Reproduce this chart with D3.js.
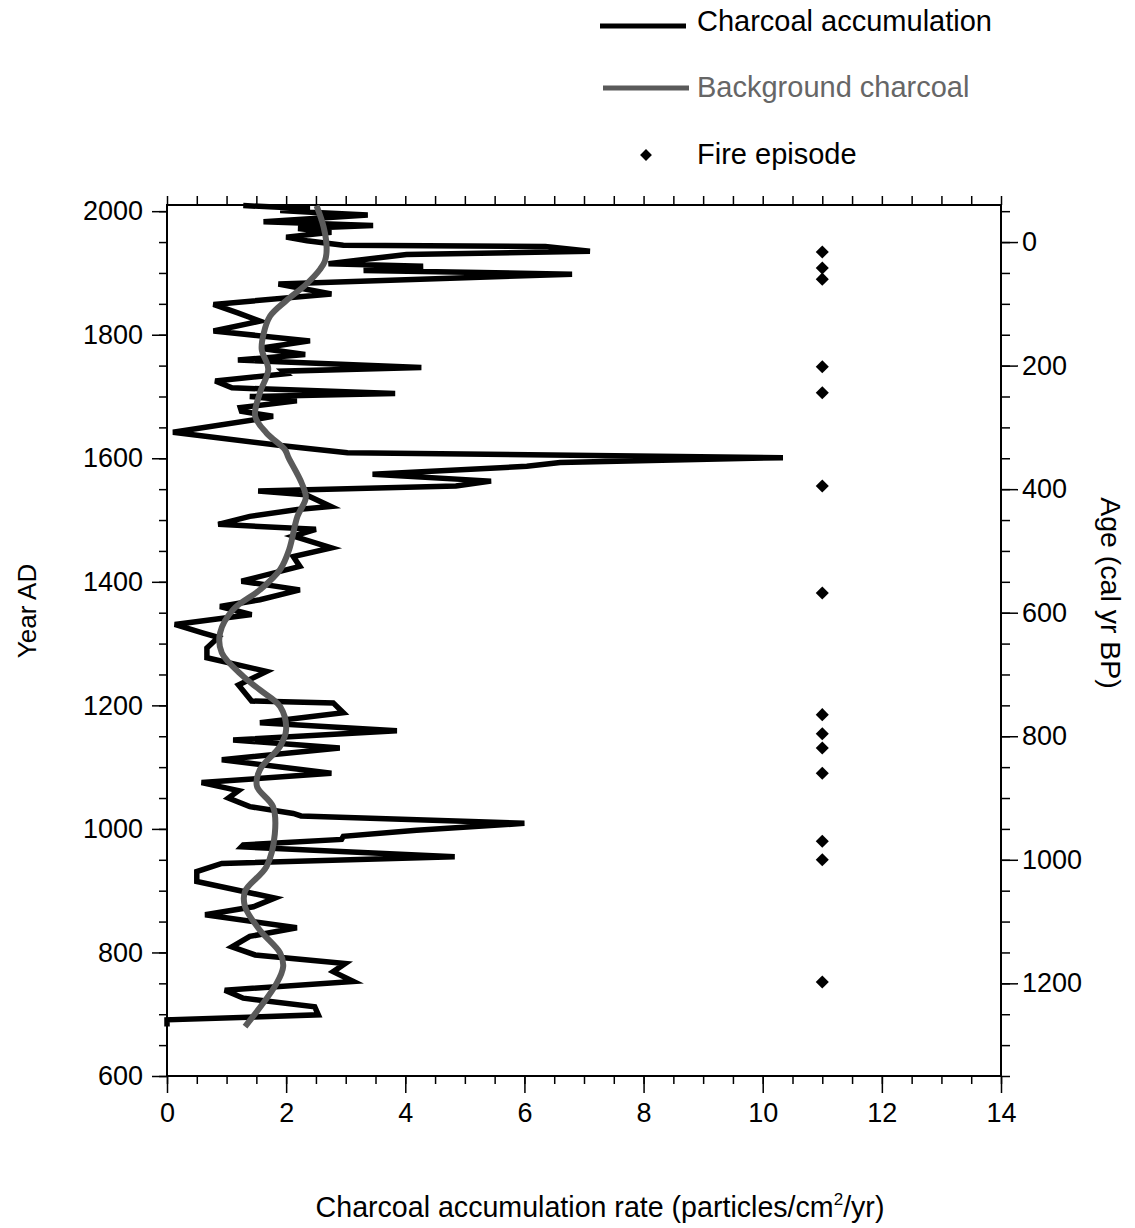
<!DOCTYPE html>
<html>
<head>
<meta charset="utf-8">
<script src="https://cdn.jsdelivr.net/npm/d3@7"></script>
<style>
  body { margin: 0; background: #fff; }
  svg { display: block; }
  text { font-family: "Liberation Sans", Arial, sans-serif; }
</style>
</head>
<body>
<svg id="chart" width="1135" height="1228"></svg>
<script>
// charcoal accumulation, read top (young) to bottom (old)
const charcoalYears = [2009, 2004, 2001, 1998, 1994, 1983, 1977, 1972, 1966, 1958, 1952, 1945, 1943, 1935, 1930,
  1915, 1911, 1904, 1898, 1882, 1866, 1849, 1835, 1822, 1806, 1790, 1778, 1768, 1759, 1747, 1741, 1737,
  1725, 1714, 1705, 1700, 1693, 1682, 1676, 1668, 1663, 1642, 1620, 1609, 1601, 1593, 1587, 1574, 1563,
  1555, 1547, 1541, 1522, 1517, 1506, 1493, 1485, 1474, 1455, 1441, 1425, 1401, 1387, 1371, 1360, 1347,
  1331, 1317, 1310, 1293, 1277, 1255, 1233, 1207, 1204, 1188, 1172, 1159, 1144, 1131, 1112, 1090, 1075,
  1062, 1050, 1036, 1025, 1021, 1009, 998, 988, 983, 974, 971, 955, 944, 931, 915, 888, 874, 861, 840,
  826, 809, 796, 782, 769, 753, 739, 726, 712, 699, 691, 680];
const charcoalValues = [1.28, 2.4, 1.9, 2.5, 3.37, 1.62, 3.46, 2.2, 2.76, 2.0, 2.35, 2.96, 6.35, 7.1, 4.02,
  2.71, 4.3, 3.3, 6.8, 1.87, 2.76, 0.78, 1.2, 1.56, 0.78, 2.4, 1.56, 2.32, 1.19, 4.27, 1.95, 2.0,
  0.81, 1.09, 3.83, 1.39, 2.18, 1.23, 1.25, 1.78, 1.5, 0.1, 1.98, 3.03, 10.34, 6.6, 6.04, 3.45, 5.44,
  4.85, 1.53, 2.33, 2.75, 2.19, 1.39, 0.86, 2.5, 2.12, 2.76, 2.12, 2.23, 1.25, 2.23, 1.56, 0.89, 1.42,
  0.13, 0.61, 0.86, 0.67, 0.67, 1.67, 1.2, 1.42, 2.79, 2.96, 1.56, 3.86, 1.11, 2.9, 0.92, 2.76, 0.58,
  1.2, 1.03, 1.39, 2.12, 2.25, 6.0, 4.19, 2.96, 2.93, 1.28, 1.25, 4.83, 0.92, 0.5, 0.5, 1.81, 1.45, 0.64, 2.18,
  1.39, 1.09, 1.48, 2.99, 2.79, 3.13, 0.97, 1.28, 2.48, 2.54, 0.0, 0.0];

// background charcoal (smoothed)
const backgroundYears = [2009, 1974, 1940, 1919, 1906, 1882, 1855, 1830, 1801, 1776, 1744, 1706, 1668, 1641,
  1614, 1601, 1560, 1536, 1506, 1452, 1420, 1387, 1355, 1317, 1285, 1247, 1225, 1198, 1161, 1134, 1096,
  1069, 1036, 992, 939, 899, 874, 836, 799, 777, 750, 680];
const backgroundValues = [2.51, 2.63, 2.68, 2.65, 2.57, 2.34, 2.0, 1.73, 1.62, 1.59, 1.7, 1.56, 1.48, 1.67,
  1.98, 2.04, 2.26, 2.33, 2.19, 2.05, 1.9, 1.56, 1.11, 0.89, 0.92, 1.28, 1.56, 1.9, 2.0, 1.9, 1.56,
  1.51, 1.78, 1.81, 1.67, 1.31, 1.31, 1.56, 1.9, 1.95, 1.84, 1.31];

// fire episodes, all drawn at rate 11
const fireYears = [1934, 1908, 1890, 1748, 1706, 1555, 1382, 1185, 1154, 1131, 1090, 980, 950, 752];
const fireRate = 11;

const rateTicks = [0, 2, 4, 6, 8, 10, 12, 14];
const yearTicks = [600, 800, 1000, 1200, 1400, 1600, 1800, 2000];
const ageTicks = [0, 200, 400, 600, 800, 1000, 1200];

const svg = d3.select("#chart");
const plotLeft = 167, plotRight = 1001, plotTop = 205, plotBottom = 1076;

const x = d3.scaleLinear().domain([0, 14]).range([plotLeft, plotRight]);
const y = d3.scaleLinear().domain([600, 2010]).range([plotBottom, plotTop]);
const age = d3.scaleLinear().domain([1950 - 600, 1950 - 2010]).range([plotBottom, plotTop]);

function styleAxis(g, size) {
  g.select(".domain").remove();
  g.selectAll(".tick line").attr("stroke", "#000").attr("stroke-width", 1.5);
  g.selectAll(".tick text").attr("font-size", size).attr("fill", "#000")
    .style("font-family", '"Liberation Sans", Arial, sans-serif');
}

// bottom axis
svg.append("g").attr("transform", `translate(0,${plotBottom})`)
  .call(d3.axisBottom(x).tickValues(d3.range(0, 14.01, 0.5)).tickSize(8).tickFormat(""))
  .call(g => styleAxis(g, 0));
svg.append("g").attr("transform", `translate(0,${plotBottom})`)
  .call(d3.axisBottom(x).tickValues(rateTicks).tickSize(17).tickPadding(10).tickFormat(d3.format("d")))
  .call(g => styleAxis(g, 27));

// top axis
svg.append("g").attr("transform", `translate(0,${plotTop})`)
  .call(d3.axisTop(x).tickValues(d3.range(0, 14.01, 0.5)).tickSize(9).tickFormat(""))
  .call(g => styleAxis(g, 0));

// left axis (Year AD)
svg.append("g").attr("transform", `translate(${plotLeft},0)`)
  .call(d3.axisLeft(y).tickValues(d3.range(600, 2001, 50)).tickSize(8).tickFormat(""))
  .call(g => styleAxis(g, 0));
svg.append("g").attr("transform", `translate(${plotLeft},0)`)
  .call(d3.axisLeft(y).tickValues(yearTicks).tickSize(15).tickPadding(9).tickFormat(d3.format("d")))
  .call(g => styleAxis(g, 27));

// right axis (cal yr BP)
svg.append("g").attr("transform", `translate(${plotRight},0)`)
  .call(d3.axisRight(age).tickValues(d3.range(-50, 1351, 50)).tickSize(9).tickFormat(""))
  .call(g => styleAxis(g, 0));
svg.append("g").attr("transform", `translate(${plotRight},0)`)
  .call(d3.axisRight(age).tickValues(ageTicks).tickSize(17).tickPadding(4).tickFormat(d3.format("d")))
  .call(g => styleAxis(g, 27));

// frame
svg.append("rect")
  .attr("x", plotLeft).attr("y", plotTop)
  .attr("width", plotRight - plotLeft).attr("height", plotBottom - plotTop)
  .attr("fill", "none").attr("stroke", "#000").attr("stroke-width", 2);

const charcoal = charcoalYears.map((yr, i) => ({ year: yr, value: charcoalValues[i] }));
const background = backgroundYears.map((yr, i) => ({ year: yr, value: backgroundValues[i] }));

const plot = svg.append("g");

plot.append("path")
  .datum(charcoal)
  .attr("fill", "none")
  .attr("stroke", "#000")
  .attr("stroke-width", 5.5)
  .attr("d", d3.line().x(d => x(d.value)).y(d => y(d.year)));

plot.append("path")
  .datum(background)
  .attr("fill", "none")
  .attr("stroke", "#5a5a5a")
  .attr("stroke-width", 6)
  .attr("d", d3.line().curve(d3.curveCatmullRom).x(d => x(d.value)).y(d => y(d.year)));

const diamond = d3.symbol().type(d3.symbolSquare).size(85);
plot.selectAll(".fire")
  .data(fireYears)
  .join("path")
  .attr("class", "fire")
  .attr("transform", d => `translate(${x(fireRate)},${y(d)}) rotate(45)`)
  .attr("d", diamond)
  .attr("fill", "#000");

// axis titles
svg.append("text")
  .attr("transform", "translate(36,611) rotate(-90)")
  .attr("text-anchor", "middle")
  .attr("font-size", 26)
  .text("Year AD");

svg.append("text")
  .attr("transform", "translate(1101,593) rotate(90)")
  .attr("text-anchor", "middle")
  .attr("font-size", 28.5)
  .text("Age (cal yr BP)");

const xTitle = svg.append("text")
  .attr("x", 600).attr("y", 1217)
  .attr("text-anchor", "middle")
  .attr("font-size", 28.6);
xTitle.append("tspan").text("Charcoal accumulation rate (particles/cm");
xTitle.append("tspan").attr("font-size", 17).attr("dy", -12).text("2");
xTitle.append("tspan").attr("dy", 12).text("/yr)");

// legend
const legend = svg.append("g");
legend.append("line").attr("x1", 600).attr("x2", 686).attr("y1", 26).attr("y2", 26)
  .attr("stroke", "#000").attr("stroke-width", 5);
legend.append("text").attr("x", 697).attr("y", 31).attr("font-size", 29).attr("fill", "#000")
  .text("Charcoal accumulation");
legend.append("line").attr("x1", 603).attr("x2", 689).attr("y1", 88).attr("y2", 88)
  .attr("stroke", "#5a5a5a").attr("stroke-width", 5);
legend.append("text").attr("x", 697).attr("y", 97).attr("font-size", 29).attr("fill", "#666")
  .text("Background charcoal");
legend.append("path")
  .attr("transform", "translate(646,155) rotate(45)")
  .attr("d", d3.symbol().type(d3.symbolSquare).size(70))
  .attr("fill", "#000");
legend.append("text").attr("x", 697).attr("y", 164).attr("font-size", 29).attr("fill", "#000")
  .text("Fire episode");
</script>
</body>
</html>
